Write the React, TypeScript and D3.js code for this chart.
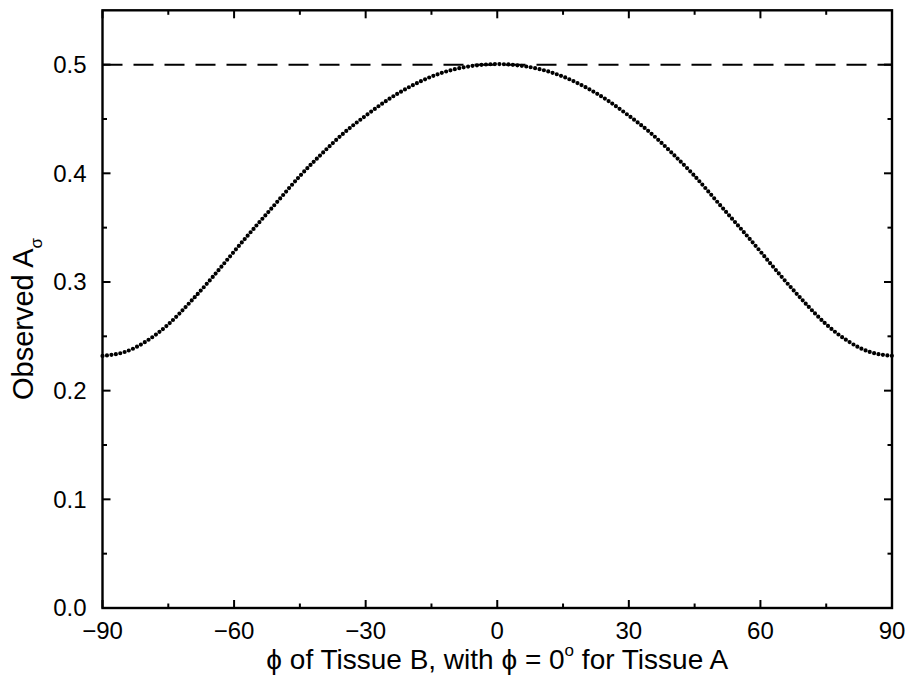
import React from 'react'
import * as d3 from 'd3'

// phi of tissue B (degrees) and the observed A_sigma
const phiDeg = [
  -90, -85, -80, -75, -70, -65, -60, -55, -50, -45, -40, -35, -30, -25, -20, -15, -10, -5,
  0, 5, 10, 15, 20, 25, 30, 35, 40, 45, 50, 55, 60, 65, 70, 75, 80, 85, 90,
]
const observedA = [
  0.232, 0.2355, 0.2455, 0.2610, 0.2815, 0.3040, 0.3280, 0.3515, 0.3745, 0.3975, 0.4180, 0.4370, 0.4530, 0.4675, 0.4795, 0.4890, 0.4955, 0.4992,
  0.5005, 0.4992, 0.4955, 0.4890, 0.4795, 0.4675, 0.4530, 0.4370, 0.4180, 0.3975, 0.3745, 0.3515, 0.3280, 0.3040, 0.2815, 0.2610, 0.2455, 0.2355, 0.232,
]
const referenceLevel = 0.5

const xTicks = [-90, -60, -30, 0, 30, 60, 90]
const xMinorTicks = [-75, -45, -15, 15, 45, 75]
const yTicks = [0.0, 0.1, 0.2, 0.3, 0.4, 0.5]
const yMinorTicks = [0.05, 0.15, 0.25, 0.35, 0.45]

const W = 907
const H = 678
const margin = { top: 10.3, right: 15, bottom: 70, left: 102.5 }
const FONT = "'Liberation Sans', Arial, Helvetica, sans-serif"

export default function App() {
  const x = d3.scaleLinear().domain([-90, 90]).range([margin.left, W - margin.right])
  const y = d3.scaleLinear().domain([0, 0.55]).range([H - margin.bottom, margin.top])

  const pts = phiDeg.map((p, i) => [p, observedA[i]] as [number, number])
  const line = d3.line<[number, number]>()
    .x(d => x(d[0]))
    .y(d => y(d[1]))
    .curve(d3.curveNatural)

  const x0 = x(-90), x1 = x(90), y0 = y(0), y1 = y(0.55)
  const major = 8, minor = 4.5
  const fmtY = d3.format('.1f')
  const fmtX = (v: number) => (v < 0 ? '\u2212' + Math.abs(v) : String(v))

  return (
    <svg width={W} height={H} style={{ position: 'absolute', left: 0, top: 0, background: '#fff' }}
      fontFamily={FONT}>
      {/* dashed reference */}
      <line x1={x0} x2={x1} y1={y(referenceLevel)} y2={y(referenceLevel)}
        stroke="#000" strokeWidth={2} strokeDasharray="20 11" />

      {/* dotted curve */}
      <path d={line(pts) || ''} fill="none" stroke="#000" strokeWidth={4.2}
        strokeLinecap="round" strokeDasharray="0 4.5" />

      {/* ticks on all sides */}
      <g stroke="#000" strokeWidth={2}>
        {xTicks.map(t => (
          <g key={'xt' + t}>
            <line x1={x(t)} x2={x(t)} y1={y0} y2={y0 - major} />
            <line x1={x(t)} x2={x(t)} y1={y1} y2={y1 + major} />
          </g>
        ))}
        {xMinorTicks.map(t => (
          <g key={'xm' + t}>
            <line x1={x(t)} x2={x(t)} y1={y0} y2={y0 - minor} />
            <line x1={x(t)} x2={x(t)} y1={y1} y2={y1 + minor} />
          </g>
        ))}
        {yTicks.map(t => (
          <g key={'yt' + t}>
            <line x1={x0} x2={x0 + major} y1={y(t)} y2={y(t)} />
            <line x1={x1} x2={x1 - major} y1={y(t)} y2={y(t)} />
          </g>
        ))}
        {yMinorTicks.map(t => (
          <g key={'ym' + t}>
            <line x1={x0} x2={x0 + minor} y1={y(t)} y2={y(t)} />
            <line x1={x1} x2={x1 - minor} y1={y(t)} y2={y(t)} />
          </g>
        ))}
      </g>

      {/* frame */}
      <rect x={x0} y={y1} width={x1 - x0} height={y0 - y1} fill="none" stroke="#000" strokeWidth={2.4} />

      {/* tick labels */}
      <g fontSize={24} fill="#000">
        {xTicks.map(t => (
          <text key={'xl' + t} x={x(t)} y={y0 + 31} textAnchor="middle">{fmtX(t)}</text>
        ))}
        {yTicks.map(t => (
          <text key={'yl' + t} x={x0 - 16} y={y(t)} dy="0.35em" textAnchor="end">{fmtY(t)}</text>
        ))}
      </g>

      {/* axis titles */}
      <text x={(x0 + x1) / 2} y={669} textAnchor="middle" fontSize={28} fill="#000">
        {'\u03D5 of Tissue B, with \u03D5 = 0'}
        <tspan fontSize={17} dy={-13}>o</tspan>
        <tspan dy={13}>{' for Tissue A'}</tspan>
      </text>
      <text transform={`translate(33,400) rotate(-90)`} textAnchor="start" fontSize={29} fill="#000">
        {'Observed A'}
        <tspan fontSize={17} dy={9}>{'\u03C3'}</tspan>
      </text>
    </svg>
  )
}
